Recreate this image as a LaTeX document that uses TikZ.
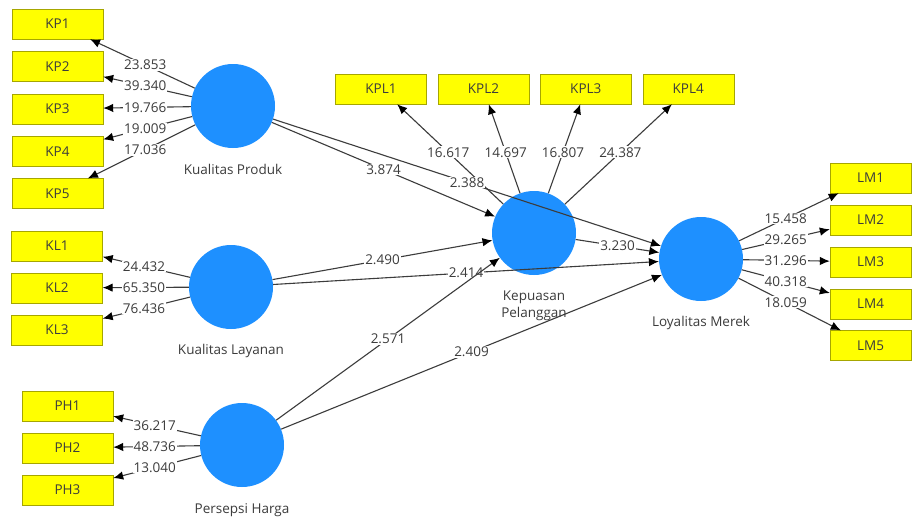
\documentclass[tikz,border=0pt]{standalone}
\usepackage{fontspec}
\setmainfont{Open Sans}
\usetikzlibrary{arrows.meta,positioning,calc}
\definecolor{lvblue}{HTML}{1E90FF}
\definecolor{indyel}{HTML}{FFFF00}
\definecolor{indrim}{HTML}{A6A600}
\definecolor{ink}{HTML}{3C3C3C}
\newcommand\plsfont{\fontsize{13.5}{17}\selectfont}
\tikzset{
  latent/.style={circle,fill=lvblue,minimum size=84pt,inner sep=0pt},
  indbox/.style={rectangle,draw=indrim,fill=indyel,minimum width=91pt,minimum height=30pt,
    inner sep=0pt,font=\plsfont,text=ink},
  lvname/.style={inner sep=0pt,align=center,font=\plsfont,text=ink},
  load/.style={-{Latex[length=10pt,width=8.5pt,color=black]},line width=1.1pt,draw=ink},
  coef/.style={fill=white,inner sep=1pt,font=\plsfont,text=ink},
}

\begin{document}
\begin{tikzpicture}[x=1pt,y=-1pt]
  \fill[white] (0,0) rectangle (912,519);
  \useasboundingbox (0,0) rectangle (912,519);
  % latent variables
  \node[latent] (kp) at (233,106) {};
  \node[latent] (kl) at (231,287) {};
  \node[latent] (ph) at (242,445) {};
  \node[latent] (kep) at (534,233) {};
  \node[latent] (loy) at (701,259) {};
  \node[lvname,below=16pt of kp] (kpname) {Kualitas Produk};
  \node[lvname,below=15pt of kl] (klname) {Kualitas Layanan};
  \node[lvname,below=16pt of ph] (phname) {Persepsi Harga};
  \node[lvname,below=15pt of kep] (kepname) {Kepuasan\\Pelanggan};
  \node[lvname,below=15pt of loy] (loyname) {Loyalitas Merek};
  % indicators
  \node[indbox] (kp1) at (57.5,24) {KP1};
  \node[indbox,below=12pt of kp1] (kp2) {KP2};
  \node[indbox,below=12pt of kp2] (kp3) {KP3};
  \node[indbox,below=12pt of kp3] (kp4) {KP4};
  \node[indbox,below=12pt of kp4] (kp5) {KP5};
  \node[indbox] (kl1) at (57,246) {KL1};
  \node[indbox,below=11.5pt of kl1] (kl2) {KL2};
  \node[indbox,below=11.5pt of kl2] (kl3) {KL3};
  \node[indbox] (ph1) at (67.5,406) {PH1};
  \node[indbox,below=11.5pt of ph1] (ph2) {PH2};
  \node[indbox,below=11.5pt of ph2] (ph3) {PH3};
  \node[indbox] (kpl1) at (381,89) {KPL1};
  \node[indbox,right=11pt of kpl1] (kpl2) {KPL2};
  \node[indbox,right=11pt of kpl2] (kpl3) {KPL3};
  \node[indbox,right=11pt of kpl3] (kpl4) {KPL4};
  \node[indbox,minimum width=81pt] (lm1) at (870.5,178) {LM1};
  \node[indbox,minimum width=81pt,below=11.5pt of lm1] (lm2) {LM2};
  \node[indbox,minimum width=81pt,below=11.5pt of lm2] (lm3) {LM3};
  \node[indbox,minimum width=81pt,below=11.5pt of lm3] (lm4) {LM4};
  \node[indbox,minimum width=81pt,below=11.5pt of lm4] (lm5) {LM5};
  % outer loadings
  \draw[load] (kp) -- (kp1) node[coef] at ($(kp)!0.5!(kp1)$) {23.853};
  \draw[load] (kp) -- (kp2) node[coef] at ($(kp)!0.5!(kp2)$) {39.340};
  \draw[load] (kp) -- (kp3) node[coef] at ($(kp)!0.5!(kp3)$) {19.766};
  \draw[load] (kp) -- (kp4) node[coef] at ($(kp)!0.5!(kp4)$) {19.009};
  \draw[load] (kp) -- (kp5) node[coef] at ($(kp)!0.5!(kp5)$) {17.036};
  \draw[load] (kl) -- (kl1) node[coef] at ($(kl)!0.5!(kl1)$) {24.432};
  \draw[load] (kl) -- (kl2) node[coef] at ($(kl)!0.5!(kl2)$) {65.350};
  \draw[load] (kl) -- (kl3) node[coef] at ($(kl)!0.5!(kl3)$) {76.436};
  \draw[load] (ph) -- (ph1) node[coef] at ($(ph)!0.5!(ph1)$) {36.217};
  \draw[load] (ph) -- (ph2) node[coef] at ($(ph)!0.5!(ph2)$) {48.736};
  \draw[load] (ph) -- (ph3) node[coef] at ($(ph)!0.5!(ph3)$) {13.040};
  \draw[load] (kep) -- (kpl1) node[coef] at ($(kep)!0.56!(kpl1)$) {16.617};
  \draw[load] (kep) -- (kpl2) node[coef] at ($(kep)!0.56!(kpl2)$) {14.697};
  \draw[load] (kep) -- (kpl3) node[coef] at ($(kep)!0.56!(kpl3)$) {16.807};
  \draw[load] (kep) -- (kpl4) node[coef] at ($(kep)!0.56!(kpl4)$) {24.387};
  \draw[load] (loy) -- (lm1) node[coef] at ($(loy)!0.5!(lm1)$) {15.458};
  \draw[load] (loy) -- (lm2) node[coef] at ($(loy)!0.5!(lm2)$) {29.265};
  \draw[load] (loy) -- (lm3) node[coef] at ($(loy)!0.5!(lm3)$) {31.296};
  \draw[load] (loy) -- (lm4) node[coef] at ($(loy)!0.5!(lm4)$) {40.318};
  \draw[load] (loy) -- (lm5) node[coef] at ($(loy)!0.5!(lm5)$) {18.059};
  % inner paths
  \draw[load] (kp) -- (kep) node[coef] at ($(kp)!0.5!(kep)$) {3.874};
  \draw[load] (kp) -- (loy) node[coef] at ($(kp)!0.5!(loy)$) {2.388};
  \draw[load] (kl) -- (kep) node[coef] at ($(kl)!0.5!(kep)$) {2.490};
  \draw[load] (kl) -- (loy) node[coef] at ($(kl)!0.5!(loy)$) {2.414};
  \draw[load] (ph) -- (kep) node[coef] at ($(ph)!0.5!(kep)$) {2.571};
  \draw[load] (ph) -- (loy) node[coef] at ($(ph)!0.5!(loy)$) {2.409};
  \draw[load] (kep) -- (loy) node[coef] at ($(kep)!0.5!(loy)$) {3.230};
\end{tikzpicture}
\end{document}
